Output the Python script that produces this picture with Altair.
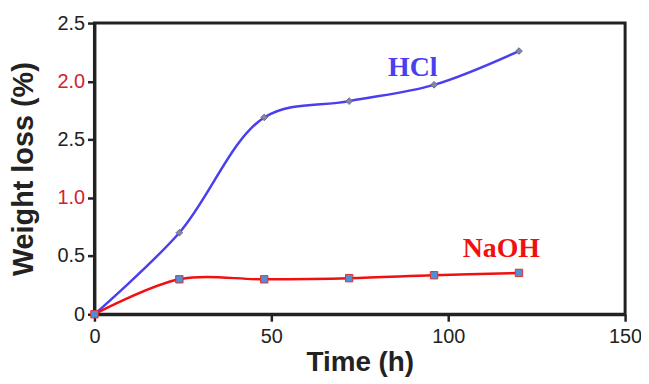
import altair as alt
import pandas as pd

time_h = [0, 24, 48, 72, 96, 120]
hcl = [0.0, 0.70, 1.69, 1.83, 1.97, 2.26]
naoh = [0.0, 0.30, 0.30, 0.31, 0.335, 0.355]

y_ticks = [0, 0.5, 1.0, 1.5, 2.0, 2.5]
y_tick_text = ["0", "0.5", "1.0", "2.5", "2.0", "2.5"]
red_ticks = [1.0, 2.0]

label_names = ["HCl", "NaOH"]
label_x = [90, 115]
label_y = [2.11, 0.56]

df_hcl = pd.DataFrame({"t": time_h, "w": hcl})
df_naoh = pd.DataFrame({"t": time_h, "w": naoh})
df_lab = pd.DataFrame({"name": label_names, "x": label_x, "y": label_y})

label_map = " : ".join(
    f"datum.value == {v} ? '{s}'" for v, s in zip(y_ticks, y_tick_text)
) + " : ''"
red_test = " || ".join(f"datum.value == {v}" for v in red_ticks)

x_enc = alt.X(
    "t:Q",
    scale=alt.Scale(domain=[0, 150], nice=False),
    axis=alt.Axis(
        title="Time (h)", values=[0, 50, 100, 150], grid=False, labelFlush=False,
        domainColor="#222", domainWidth=3, tickColor="#222", tickWidth=2.5,
        tickSize=7, labelFont="Liberation Sans", labelFontSize=20,
        labelColor="#222", labelPadding=5, titleFont="Liberation Sans",
        titleFontSize=28, titleFontWeight="bold", titleColor="#222",
        titlePadding=3,
    ),
)
y_enc = alt.Y(
    "w:Q",
    scale=alt.Scale(domain=[0, 2.5], nice=False),
    axis=alt.Axis(
        title="Weight loss (%)", values=y_ticks, grid=False, labelFlush=False,
        labelExpr=label_map,
        labelColor={"condition": {"test": red_test, "value": "#d42030"}, "value": "#222"},
        domainColor="#222", domainWidth=3, tickColor="#222", tickWidth=2.5,
        tickSize=7, labelFont="Liberation Sans", labelFontSize=20,
        labelPadding=3, titleFont="Liberation Sans", titleFontSize=29,
        titleFontWeight="bold", titleColor="#222", titlePadding=19,
    ),
)

line_hcl = alt.Chart(df_hcl).mark_line(
    color="#4a3ff0", strokeWidth=2.5, interpolate="catmull-rom"
).encode(x=x_enc, y=y_enc)
line_naoh = alt.Chart(df_naoh).mark_line(
    color="#f01010", strokeWidth=2.5, interpolate="catmull-rom"
).encode(x="t:Q", y="w:Q")
pts_hcl = alt.Chart(df_hcl).mark_point(
    shape="diamond", filled=True, size=45, color="#8585a5", stroke="#6a6a90",
    strokeWidth=1, opacity=1
).encode(x="t:Q", y="w:Q")
pts_naoh = alt.Chart(df_naoh).mark_point(
    shape="square", filled=True, size=55, fill="#4f8fd5", stroke="#e03030",
    strokeWidth=1, opacity=1
).encode(x="t:Q", y="w:Q")
labels = alt.Chart(df_lab).mark_text(
    font="Liberation Serif", fontSize=28, fontWeight="bold"
).encode(
    x="x:Q", y="y:Q", text="name:N",
    color=alt.Color("name:N", scale=alt.Scale(domain=label_names, range=["#4a3ff0", "#f01010"]), legend=None),
)

chart = alt.layer(line_hcl, line_naoh, pts_hcl, pts_naoh, labels).properties(
    width=534, height=293,
    autosize=alt.AutoSizeParams(type="none"),
    padding={"left": 87, "top": 14, "right": 16, "bottom": 69},
    background="white",
).configure_view(stroke="#222", strokeWidth=3)

chart.save("out.html", embed_options={"renderer": "svg", "actions": False})
